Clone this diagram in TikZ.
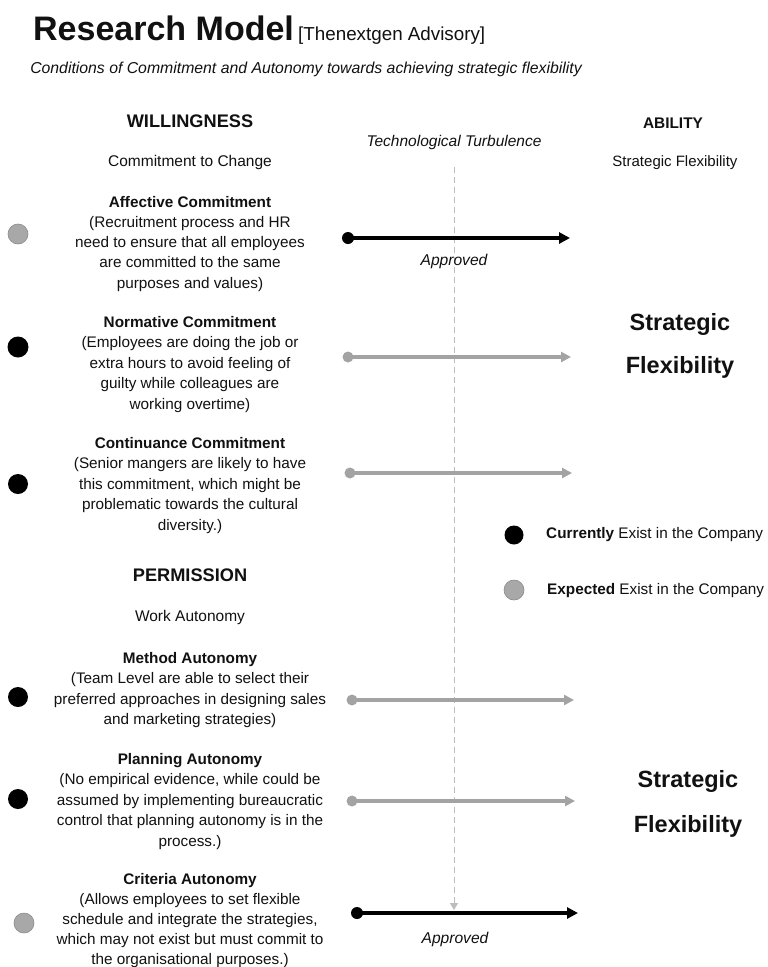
\documentclass[tikz,border=0pt]{standalone}
\usepackage{fontspec}
\setmainfont{Liberation Sans}
\usetikzlibrary{arrows.meta}
\definecolor{ink}{HTML}{111111}
\definecolor{lgray}{HTML}{A3A3A3}
\definecolor{dgray}{HTML}{A8A8A8}
\definecolor{dashgray}{HTML}{BDBDBD}
\tikzset{
  body/.style={font=\fontsize{15.3}{20.4}\selectfont, text=ink, inner sep=0pt, anchor=base},
  head/.style={font=\fontsize{18.2}{22}\selectfont\bfseries, text=ink, inner sep=0pt, anchor=base},
  subhead/.style={font=\fontsize{15.5}{20}\selectfont, text=ink, inner sep=0pt, anchor=base},
  bigsf/.style={font=\fontsize{23.5}{28}\selectfont\bfseries, text=ink, inner sep=0pt, anchor=base},
  ital/.style={font=\fontsize{15.6}{20}\selectfont\itshape, text=ink, inner sep=0pt, anchor=base},
  blackdot/.style={circle, fill=black, draw=none, inner sep=0pt, minimum size=20pt},
  graydot/.style={circle, fill=dgray, draw=lgray!85!black, line width=0.6pt, inner sep=0pt, minimum size=20pt},
  startblack/.style={circle, fill=black, inner sep=0pt, minimum size=12pt},
  startgray/.style={circle, fill=lgray, inner sep=0pt, minimum size=11pt},
  blackarrow/.style={draw=black, line width=3.6pt, -{Triangle[length=11pt,width=11pt]}},
  grayarrow/.style={draw=lgray, line width=3.2pt, -{Triangle[length=10pt,width=10pt]}},
  turb/.style={draw=dashgray, line width=1pt, dash pattern=on 6pt off 4pt, -{Triangle[length=7pt,width=8pt,fill=dashgray]}},
}
\newcommand\blocklines[5]{%
  \foreach \txt [count=\i] in {#5} {\node[body] (#1\i) at (#2, {#3+(\i-1)*#4}) {\txt};}%
}
\begin{document}
\begin{tikzpicture}[x=1pt, y=-1pt]
\useasboundingbox[fill=white] (0,0) rectangle (768,967);

% Title
\node[inner sep=0pt, anchor=base west, font=\fontsize{34}{38}\selectfont\bfseries, text=ink] (title) at (33,40) {Research Model};
\node[inner sep=0pt, anchor=base west, font=\fontsize{18.8}{22}\selectfont, text=ink] (advisory) at (298,40) {[Thenextgen Advisory]};
\node[ital, font=\fontsize{15.8}{20}\selectfont\itshape] (subtitle) at (306,73) {Conditions of Commitment and Autonomy towards achieving strategic flexibility};

% Column heads
\node[head] (will) at (190,127) {WILLINGNESS};
\node[subhead] (ctc) at (190,166) {Commitment to Change};
\node[ital, font=\fontsize{15.5}{20}\selectfont\itshape] (tt) at (454,146) {Technological Turbulence};
\node[subhead, font=\fontsize{15.4}{20}\selectfont\bfseries] (ability) at (673,128) {ABILITY};
\node[subhead, font=\fontsize{15}{20}\selectfont] (sflex) at (675,166) {Strategic Flexibility};

% Willingness blocks
\blocklines{aff}{190}{207}{20.3}{{\textbf{Affective Commitment}},{(Recruitment process and HR},{need to ensure that all employees},{are committed to the same},{purposes and values)}}
\blocklines{nor}{190}{327}{20.5}{{\textbf{Normative Commitment}},{(Employees are doing the job or},{extra hours to avoid feeling of},{guilty while colleagues are},{working overtime)}}
\blocklines{con}{190}{448}{20.5}{{\textbf{Continuance Commitment}},{(Senior mangers are likely to have},{this commitment, which might be},{problematic towards the cultural},{diversity.)}}

% Permission
\node[head] (perm) at (190,581) {PERMISSION};
\node[subhead] (wa) at (190,621) {Work Autonomy};
\blocklines{met}{190}{663}{20.5}{{\textbf{Method Autonomy}},{(Team Level are able to select their},{preferred approaches in designing sales},{and marketing strategies)}}
\blocklines{pla}{190}{764}{20.5}{{\textbf{Planning Autonomy}},{(No empirical evidence, while could be},{assumed by implementing bureaucratic},{control that planning autonomy is in the},{process.)}}
\blocklines{cri}{190}{884}{20}{{\textbf{Criteria Autonomy}},{(Allows employees to set flexible},{schedule and integrate the strategies,},{which may not exist but must commit to},{the organisational purposes.)}}

% Left status dots
\node[graydot] (d1) at (18,234) {};
\node[blackdot, minimum size=21pt] (d2) at (18,347) {};
\node[blackdot] (d3) at (18,484) {};
\node[blackdot] (d4) at (18,697) {};
\node[blackdot] (d5) at (18,799) {};
\node[graydot] (d6) at (24,923) {};

% Strategic flexibility (big)
\node[bigsf] (sf1a) at (680,330) {Strategic};
\node[bigsf] (sf1b) at (680,373) {Flexibility};
\node[bigsf] (sf2a) at (688,787) {Strategic};
\node[bigsf] (sf2b) at (688,832) {Flexibility};

% Legend
\node[blackdot, minimum size=19pt] (lg1) at (514,535) {};
\node[inner sep=0pt, anchor=base west, font=\fontsize{15.3}{20}\selectfont, text=ink] (lg1t) at (546,538) {\textbf{Currently} Exist in the Company};
\node[graydot] (lg2) at (514,590) {};
\node[inner sep=0pt, anchor=base west, font=\fontsize{15.3}{20}\selectfont, text=ink] (lg2t) at (547,594) {\textbf{Expected} Exist in the Company};

% Technological turbulence dashed line
\coordinate (ttop) at (454,167);
\coordinate (tbot) at (454,910);
\draw[turb] (ttop) -- (tbot);

% Arrows
\coordinate (a1s) at (348,238); \coordinate (a1e) at (570,238);
\coordinate (a2s) at (348,357); \coordinate (a2e) at (571,357);
\coordinate (a3s) at (350,473); \coordinate (a3e) at (572,473);
\coordinate (a4s) at (352,700); \coordinate (a4e) at (574,700);
\coordinate (a5s) at (352,801); \coordinate (a5e) at (575,801);
\coordinate (a6s) at (357,913); \coordinate (a6e) at (578,913);

\draw[blackarrow] (a1s) -- (a1e);
\node[startblack] (a1d) at (a1s) {};
\draw[grayarrow] (a2s) -- (a2e);
\node[startgray] (a2d) at (a2s) {};
\draw[grayarrow] (a3s) -- (a3e);
\node[startgray] (a3d) at (a3s) {};
\draw[grayarrow] (a4s) -- (a4e);
\node[startgray] (a4d) at (a4s) {};
\draw[grayarrow] (a5s) -- (a5e);
\node[startgray] (a5d) at (a5s) {};
\draw[blackarrow] (a6s) -- (a6e);
\node[startblack] (a6d) at (a6s) {};

\node[ital] (ap1) at (454,265) {Approved};
\node[ital] (ap2) at (455,943) {Approved};
\end{tikzpicture}
\end{document}
